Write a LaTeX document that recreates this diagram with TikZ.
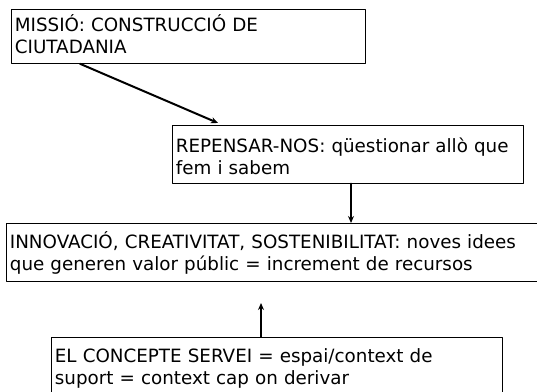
\documentclass[tikz,border=0pt]{standalone}
\usepackage{fontspec}
\setmainfont{DejaVu Sans}
\usetikzlibrary{arrows.meta}
\tikzset{caixa/.style={draw,anchor=north west,align=left,inner xsep=3.5pt,inner ysep=0pt,
    line width=0.8pt,text height=23pt,text depth=33pt}}
\begin{document}
\begin{tikzpicture}[>={Stealth[length=7pt,width=6pt]},x=1pt,y=1pt, line join=round, line
            cap=round,font=\fontsize{18.3}{22}\selectfont]
            \useasboundingbox (0,0) rectangle (537,391);
            \clip (0,0) rectangle (537,391);
            \node[caixa,text width=347pt,text height=22pt,text depth=32pt] (missio) at (11,382)
                {MISSIÓ: CONSTRUCCIÓ DE\\CIUTADANIA};
            \node[caixa,text width=344pt,text height=27pt,text depth=31pt] (repensar) at (172,266)
                {REPENSAR-NOS: qüestionar allò que\\fem i sabem};
            \node[caixa,text width=533pt,text height=25pt,text depth=33pt] (innovacio) at (6,168)
                {INNOVACIÓ, CREATIVITAT, SOSTENIBILITAT: noves idees\\que generen valor públic = increment de recursos};
            \node[caixa,text width=444pt,text height=25pt,text depth=35pt] (servei) at (51,54)
                {EL CONCEPTE SERVEI = espai/context de\\suport = context cap on derivar};
            \coordinate (puntaA) at ([shift={(46pt,2pt)}]repensar.north west);
            \coordinate (puntaC) at ([shift={(210pt,34pt)}]servei.north west);
            \draw[->,line width=2pt] ([xshift=69pt]missio.south west) -- (puntaA);
            \draw[->,line width=2.4pt] ([xshift=179pt]repensar.south west)
                -- ([xshift=179pt]repensar.south west |- innovacio.north);
            \draw[->,line width=1.6pt] ([xshift=210pt]servei.north west) -- (puntaC);
        \end{tikzpicture}
\end{document}
